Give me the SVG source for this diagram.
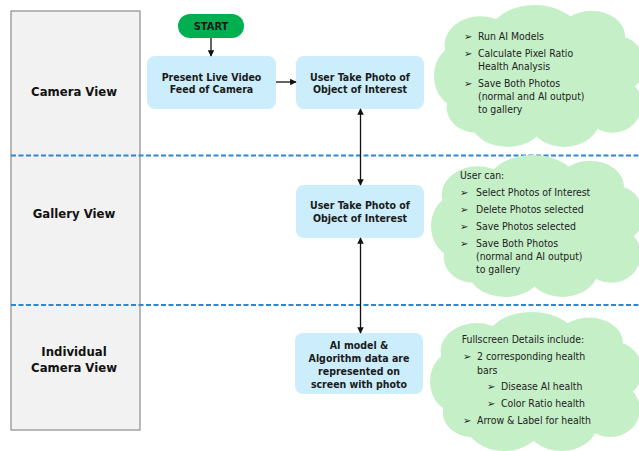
<svg xmlns="http://www.w3.org/2000/svg" xmlns:xlink="http://www.w3.org/1999/xlink" width="639" height="451" viewBox="0 0 639 451">
<style>
.lane{fill:#f2f2f2;stroke:#8c8c8c;stroke-width:1.2}
.lanetxt{font-family:"DejaVu Sans Condensed","DejaVu Sans",sans-serif;font-weight:bold;font-size:13px;fill:#111;text-anchor:middle}
.box{fill:#ccedfb}
.btxt{font-family:"DejaVu Sans Condensed","DejaVu Sans",sans-serif;font-weight:bold;font-size:10.5px;fill:#1a1a1a;text-anchor:middle}
.ctxt{font-family:"DejaVu Sans Condensed","DejaVu Sans",sans-serif;font-size:10.4px;fill:#222}
.bul{font-family:"DejaVu Sans",sans-serif;font-size:10px;fill:#222}
.sep{stroke:#2e86d4;stroke-width:2;stroke-dasharray:5 2.5;fill:none}
.conn{stroke:#111;stroke-width:1.3;fill:none}
</style>
<defs>
<marker id="ah" viewBox="0 0 10 10" refX="9" refY="5" markerWidth="5" markerHeight="5" orient="auto-start-reverse">
<path d="M0,0 L10,5 L0,10 z" fill="#111"/>
</marker>
<symbol id="cloud" viewBox="0 0 100 100" preserveAspectRatio="none">
<g fill="#c5efc7">
<ellipse cx="22" cy="28" rx="17" ry="20"/>
<ellipse cx="48" cy="22" rx="22" ry="22"/>
<ellipse cx="75" cy="22" rx="16" ry="18"/>
<ellipse cx="88" cy="42" rx="12" ry="20"/>
<ellipse cx="85" cy="70" rx="14" ry="20"/>
<ellipse cx="62" cy="80" rx="17" ry="20"/>
<ellipse cx="35" cy="80" rx="18" ry="20"/>
<ellipse cx="12" cy="50" rx="12" ry="22"/>
<ellipse cx="20" cy="72" rx="14" ry="18"/>
<ellipse cx="50" cy="50" rx="40" ry="35"/>
</g>
</symbol>
</defs>
<rect width="639" height="451" fill="#fff"/>

<g id="lanes">
<rect class="lane" x="11" y="11" width="129" height="419"/>
<text class="lanetxt" x="74" y="96.4">Camera View</text>
<text class="lanetxt" x="74" y="218">Gallery View</text>
<text class="lanetxt" x="74" y="356.4">Individual</text>
<text class="lanetxt" x="74" y="372.4">Camera View</text>
</g>

<g id="separators">
<line class="sep" x1="11" y1="155.5" x2="639" y2="155.5"/>
<line class="sep" x1="11" y1="305" x2="639" y2="305"/>
</g>

<g id="cloud1">
<use xlink:href="#cloud" x="434" y="5" width="210" height="142"/>
<text class="bul" x="464" y="40">➢</text>
<text class="ctxt" x="478" y="40">Run AI Models</text>
<text class="bul" x="464" y="57">➢</text>
<text class="ctxt" x="478" y="57">Calculate Pixel Ratio</text>
<text class="ctxt" x="478" y="70.4">Health Analysis</text>
<text class="bul" x="464" y="87">➢</text>
<text class="ctxt" x="478" y="87">Save Both Photos</text>
<text class="ctxt" x="478" y="100.4">(normal and AI output)</text>
<text class="ctxt" x="478" y="113">to gallery</text>
</g>

<g id="cloud2">
<use xlink:href="#cloud" x="431" y="155" width="212" height="142"/>
<text class="ctxt" x="460" y="178.7">User can:</text>
<text class="bul" x="460" y="196">➢</text>
<text class="ctxt" x="476" y="196">Select Photos of Interest</text>
<text class="bul" x="460" y="213">➢</text>
<text class="ctxt" x="476" y="213">Delete Photos selected</text>
<text class="bul" x="460" y="229.7">➢</text>
<text class="ctxt" x="476" y="229.7">Save Photos selected</text>
<text class="bul" x="460" y="247">➢</text>
<text class="ctxt" x="476" y="247">Save Both Photos</text>
<text class="ctxt" x="476" y="260.4">(normal and AI output)</text>
<text class="ctxt" x="476" y="273">to gallery</text>
</g>

<g id="cloud3">
<use xlink:href="#cloud" x="430" y="312" width="212" height="139"/>
<text class="ctxt" x="461.7" y="343">Fullscreen Details include:</text>
<text class="bul" x="463" y="360.4">➢</text>
<text class="ctxt" x="477" y="360.4">2 corresponding health</text>
<text class="ctxt" x="477" y="373.7">bars</text>
<text class="bul" x="487" y="389.7">➢</text>
<text class="ctxt" x="501" y="389.7">Disease AI health</text>
<text class="bul" x="487" y="407">➢</text>
<text class="ctxt" x="501" y="407">Color Ratio health</text>
<text class="bul" x="463" y="424.4">➢</text>
<text class="ctxt" x="477" y="424.4">Arrow &amp; Label for health</text>
</g>

<g id="start">
<rect x="178" y="14" width="66" height="24" rx="12" fill="#00b050"/>
<text class="btxt" x="211" y="30" style="font-size:11px">START</text>
</g>

<g id="box1">
<rect class="box" x="147" y="56" width="129" height="53" rx="8"/>
<text class="btxt" x="211.5" y="80.5">Present Live Video</text>
<text class="btxt" x="211.5" y="93.3">Feed of Camera</text>
</g>

<g id="box2">
<rect class="box" x="296" y="56" width="128" height="53" rx="8"/>
<text class="btxt" x="360" y="80.5">User Take Photo of</text>
<text class="btxt" x="360" y="93.3">Object of Interest</text>
</g>

<g id="box3">
<rect class="box" x="296" y="185" width="128" height="53" rx="8"/>
<text class="btxt" x="360" y="208.8">User Take Photo of</text>
<text class="btxt" x="360" y="222">Object of Interest</text>
</g>

<g id="box4">
<rect class="box" x="295" y="333" width="128" height="61" rx="8"/>
<text class="btxt" x="359" y="348.8">AI model &amp;</text>
<text class="btxt" x="359" y="362">Algorithm data are</text>
<text class="btxt" x="359" y="374.8">represented on</text>
<text class="btxt" x="359" y="388">screen with photo</text>
</g>

<g id="connectors">
<line class="conn" x1="211" y1="38" x2="211" y2="56" marker-end="url(#ah)"/>
<line class="conn" x1="276" y1="82" x2="296" y2="82" marker-end="url(#ah)"/>
<line class="conn" x1="360.5" y1="109" x2="360.5" y2="185" marker-start="url(#ah)" marker-end="url(#ah)"/>
<line class="conn" x1="360.5" y1="238" x2="360.5" y2="333" marker-start="url(#ah)" marker-end="url(#ah)"/>
</g>
</svg>
